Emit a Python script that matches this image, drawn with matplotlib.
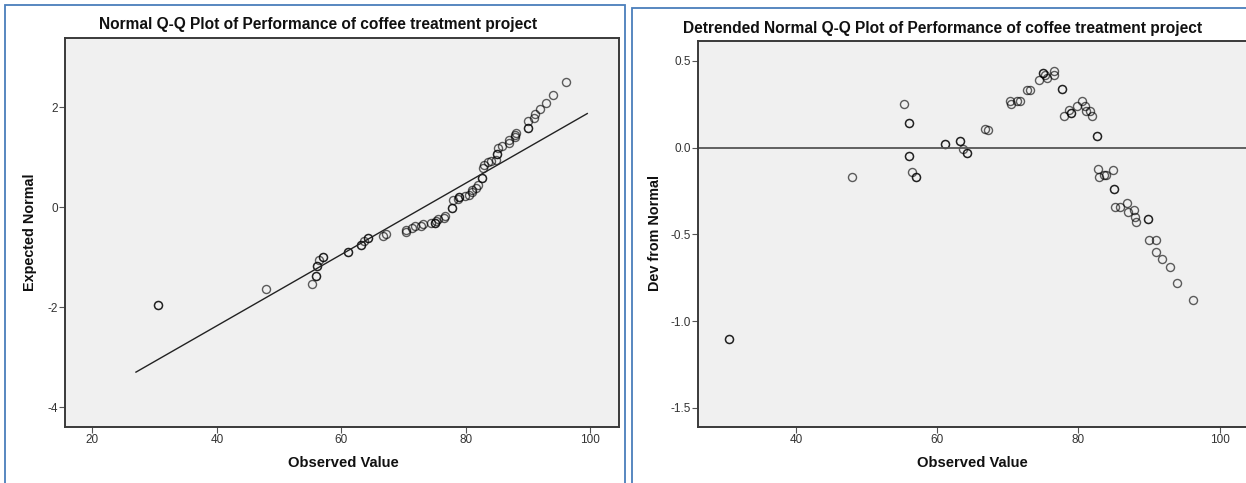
import numpy as np
import matplotlib
matplotlib.use("Agg")
import matplotlib.pyplot as plt
from matplotlib.patches import Rectangle

observed = [30.53, 47.91, 55.32, 55.93, 56.04, 56.38, 57.05, 61.06, 63.23, 63.68,
            64.23, 66.69, 67.24, 70.31, 70.42, 71.36, 71.75, 72.76, 73.15, 74.37,
            75.04, 75.26, 75.54, 76.49, 76.60, 77.72, 77.88, 78.72, 78.89, 79.83,
            80.56, 80.95, 81.06, 81.67, 81.95, 82.62, 82.73, 82.84, 83.62, 83.96,
            84.90, 85.01, 85.13, 85.85, 86.91, 86.96, 87.91, 87.97, 88.13, 89.92,
            90.03, 90.92, 91.03, 91.87, 92.92, 93.93, 96.16]

# Expected normal values (left plot)
expected = [-1.95, -1.64, -1.53, -1.37, -1.18, -1.06, -0.99, -0.89, -0.76, -0.67,
            -0.62, -0.58, -0.53, -0.49, -0.45, -0.41, -0.38, -0.37, -0.34, -0.32,
            -0.31, -0.28, -0.24, -0.21, -0.18, -0.02, 0.14, 0.17, 0.20, 0.22,
            0.25, 0.30, 0.34, 0.39, 0.44, 0.59, 0.79, 0.85, 0.90, 0.92,
            0.95, 1.07, 1.18, 1.23, 1.29, 1.34, 1.40, 1.44, 1.49, 1.59,
            1.72, 1.79, 1.87, 1.97, 2.09, 2.25, 2.51]

# Deviation from normal (right plot)
deviation = [-1.10, -0.17, 0.25, 0.14, -0.05, -0.14, -0.17, 0.02, 0.04, -0.01,
             -0.03, 0.11, 0.10, 0.27, 0.25, 0.27, 0.27, 0.33, 0.33, 0.39,
             0.43, 0.42, 0.40, 0.44, 0.42, 0.34, 0.18, 0.22, 0.20, 0.24,
             0.27, 0.24, 0.21, 0.21, 0.18, 0.07, -0.12, -0.17, -0.16, -0.16,
             -0.13, -0.24, -0.34, -0.34, -0.32, -0.37, -0.36, -0.40, -0.43, -0.41,
             -0.53, -0.53, -0.60, -0.64, -0.69, -0.78, -0.88]

# tied cases (drawn darker)
ties = [2, 1, 1, 2, 2, 1, 2, 2, 2, 1,
        2, 1, 1, 1, 1, 1, 1, 1, 1, 1,
        2, 1, 1, 1, 1, 2, 1, 1, 2, 1,
        1, 1, 1, 1, 1, 2, 1, 1, 1, 1,
        1, 2, 1, 1, 1, 1, 1, 1, 1, 2,
        1, 1, 1, 1, 1, 1, 1]

# reference line
obs_mean = 73.3
obs_sd = 14.02
line_x = [27.0, 99.5]

W, H = 1246, 483
plt.rcParams['axes.unicode_minus'] = False
plt.rcParams['font.family'] = ['Liberation Sans', 'DejaVu Sans']

fig = plt.figure(figsize=(W / 100, H / 100), dpi=100)
fig.patch.set_facecolor('white')


def box(l, t, r, b):
    return [l / W, 1 - b / H, (r - l) / W, (b - t) / H]


# blue panel frames
fig.patches.append(Rectangle((5 / W, -0.05), 620 / W, 1.05 - 5 / H,
                             transform=fig.transFigure, fill=False,
                             edgecolor='#4a7ebb', linewidth=1.3))
fig.patches.append(Rectangle((632 / W, -0.05), 0.6, 1.05 - 8 / H,
                             transform=fig.transFigure, fill=False,
                             edgecolor='#4a7ebb', linewidth=1.3))

ax1 = fig.add_axes(box(65, 38, 619, 427))
ax2 = fig.add_axes(box(698, 41, 1262, 427))

x_rep = np.repeat(observed, ties)
e_rep = np.repeat(expected, ties)
d_rep = np.repeat(deviation, ties)

for ax in (ax1, ax2):
    ax.set_facecolor('#f0f0f0')
    for s in ax.spines.values():
        s.set_color('#3a3a3a')
        s.set_linewidth(1.4)
    ax.tick_params(direction='out', length=4, width=0.8, color='#555555',
                   labelsize=8.5, labelcolor='#333333', pad=1)

# left: normal Q-Q
ax1.plot(x_rep, e_rep, 'o', ms=5.8, mfc='none', mec=(0, 0, 0, 0.62), mew=1.0)
lx = np.array(line_x)
ax1.plot(lx, (lx - obs_mean) / obs_sd, color='#222222', lw=1.0)
ax1.set_xlim(15.6, 104.6)
ax1.set_ylim(-4.4, 3.38)
ax1.set_xticks([20, 40, 60, 80, 100])
ax1.set_yticks([2, 0, -2, -4])

# right: detrended
ax2.plot(x_rep, d_rep, 'o', ms=5.8, mfc='none', mec=(0, 0, 0, 0.62), mew=1.0)
ax2.axhline(0, color='#555555', lw=1.3)
ax2.set_xlim(26.1, 106.0)
ax2.set_ylim(-1.61, 0.615)
ax2.set_xticks([40, 60, 80, 100])
ax2.set_yticks([0.5, 0.0, -0.5, -1.0, -1.5])
ax2.set_yticklabels(['0.5', '0.0', '-0.5', '-1.0', '-1.5'])

for ax in (ax1, ax2):
    for lab in ax.get_xticklabels() + ax.get_yticklabels():
        lab.set_family(['Liberation Sans Narrow', 'Liberation Sans'])


def ftxt(x, y, s, **kw):
    fig.text(x / W, 1 - y / H, s, ha='center', va='center',
             fontweight='bold', color='#111111', **kw)


ftxt(318, 25, 'Normal Q-Q Plot of Performance of coffee treatment project', fontsize=11.2)
ftxt(943, 29, 'Detrended Normal Q-Q Plot of Performance of coffee treatment project', fontsize=11.2)
ftxt(343, 463, 'Observed Value', fontsize=10.6)
ftxt(972, 463, 'Observed Value', fontsize=10.6)
ftxt(30, 232, 'Expected Normal', fontsize=10.4, rotation=90)
ftxt(655, 233, 'Dev from Normal', fontsize=10.4, rotation=90)

fig.savefig('out.png', dpi=100)
